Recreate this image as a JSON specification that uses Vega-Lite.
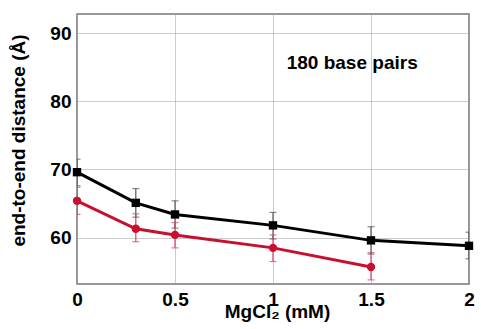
{
  "$schema": "https://vega.github.io/schema/vega-lite/v6.json",
  "autosize": "none",
  "width": 392,
  "height": 270,
  "padding": {"left": 77, "top": 14, "right": 12, "bottom": 45},
  "background": "white",
  "config": {
    "font": "Liberation Sans",
    "view": {"stroke": "#777777", "strokeWidth": 1.5},
    "axis": {
      "labelFont": "Liberation Sans",
      "labelFontWeight": "bold",
      "labelFontSize": 19,
      "labelColor": "#000000",
      "titleFont": "Liberation Sans",
      "titleFontSize": 19,
      "titleFontWeight": "bold",
      "titleColor": "#000000",
      "ticks": false,
      "domain": false,
      "grid": true,
      "gridColor": "#999999",
      "gridDash": [1, 1],
      "gridWidth": 1
    }
  },
  "datasets": {
    "pts": [
      {"mg": 0, "d": 69.6, "lo": 67.6, "hi": 71.5, "series": "black"},
      {"mg": 0.3, "d": 65.1, "lo": 63.0, "hi": 67.2, "series": "black"},
      {"mg": 0.5, "d": 63.4, "lo": 61.4, "hi": 65.4, "series": "black"},
      {"mg": 1, "d": 61.8, "lo": 59.8, "hi": 63.7, "series": "black"},
      {"mg": 1.5, "d": 59.6, "lo": 57.6, "hi": 61.6, "series": "black"},
      {"mg": 2, "d": 58.8, "lo": 56.9, "hi": 60.8, "series": "black"},
      {"mg": 0, "d": 65.4, "lo": 63.4, "hi": 67.4, "series": "red"},
      {"mg": 0.3, "d": 61.3, "lo": 59.4, "hi": 63.5, "series": "red"},
      {"mg": 0.5, "d": 60.4, "lo": 58.5, "hi": 62.2, "series": "red"},
      {"mg": 1, "d": 58.5, "lo": 56.5, "hi": 60.4, "series": "red"},
      {"mg": 1.5, "d": 55.7, "lo": 53.8, "hi": 57.8, "series": "red"}
    ]
  },
  "layer": [
    {
      "data": {"name": "pts"},
      "mark": {"type": "rule", "strokeWidth": 1.2, "clip": true},
      "encoding": {
        "x": {"field": "mg", "type": "quantitative", "scale": {"domain": [0, 2], "nice": false, "zero": false},
              "axis": {"values": [0, 0.5, 1, 1.5, 2], "labelExpr": "datum.value == 0 ? '0' : format(datum.value, '')", "labelPadding": 6, "title": "MgCl\u2082 (mM)", "titleX": 200, "titleY": 33, "titleBaseline": "alphabetic", "labelFlush": false}},
        "y": {"field": "lo", "type": "quantitative", "scale": {"domain": [53.2, 92.8], "nice": false, "zero": false},
              "axis": {"values": [60, 70, 80, 90], "labelPadding": 6, "title": "end-to-end distance (\u00c5)", "titleX": -49, "titleY": 126}},
        "y2": {"field": "hi"},
        "color": {"field": "series", "type": "nominal", "scale": {"domain": ["black", "red"], "range": ["#555555", "#d9406a"]}, "legend": null}
      }
    },
    {
      "data": {"name": "pts"},
      "transform": [{"fold": ["lo", "hi"], "as": ["k", "v"]}],
      "mark": {"type": "tick", "orient": "horizontal", "size": 7, "thickness": 1.2, "clip": true},
      "encoding": {
        "x": {"field": "mg", "type": "quantitative"},
        "y": {"field": "v", "type": "quantitative"},
        "color": {"field": "series", "type": "nominal", "legend": null}
      }
    },
    {
      "data": {"name": "pts"},
      "mark": {"type": "line", "strokeWidth": 3},
      "encoding": {
        "x": {"field": "mg", "type": "quantitative"},
        "y": {"field": "d", "type": "quantitative"},
        "detail": {"field": "series"},
        "stroke": {"field": "series", "type": "nominal", "scale": {"domain": ["black", "red"], "range": ["#000000", "#c8102e"]}, "legend": null}
      }
    },
    {
      "data": {"name": "pts"},
      "mark": {"type": "point", "filled": true, "opacity": 1, "size": 70},
      "encoding": {
        "x": {"field": "mg", "type": "quantitative"},
        "y": {"field": "d", "type": "quantitative"},
        "shape": {"field": "series", "type": "nominal", "scale": {"domain": ["black", "red"], "range": ["square", "circle"]}, "legend": null},
        "fill": {"field": "series", "type": "nominal", "scale": {"domain": ["black", "red"], "range": ["#000000", "#c8102e"]}, "legend": null}
      }
    },
    {
      "data": {"values": [{"mg": 1.07, "d": 85.6, "label": "180 base pairs"}]},
      "mark": {"type": "text", "align": "left", "baseline": "middle", "fontSize": 19, "fontWeight": "bold", "font": "Liberation Sans", "color": "#000000"},
      "encoding": {
        "x": {"field": "mg", "type": "quantitative"},
        "y": {"field": "d", "type": "quantitative"},
        "text": {"field": "label"}
      }
    }
  ]
}
